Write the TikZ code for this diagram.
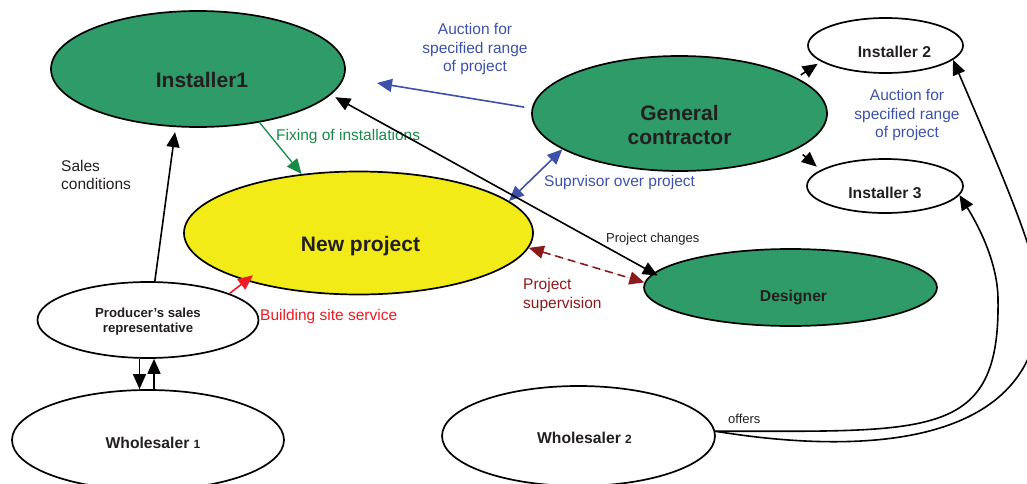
\documentclass[tikz,border=0pt]{standalone}
\usepackage{fontspec}
\setmainfont{Liberation Sans}
\usetikzlibrary{shapes.geometric, arrows.meta, positioning}

\definecolor{nodegreen}{RGB}{46,155,105}
\definecolor{nodeyellow}{RGB}{242,235,24}
\definecolor{textgrey}{RGB}{35,31,32}
\definecolor{auctionblue}{RGB}{60,82,170}
\definecolor{fixgreen}{RGB}{22,140,70}
\definecolor{sitered}{RGB}{237,28,36}
\definecolor{supred}{RGB}{139,26,26}

% moves a node text right by #1 and down by #2, keeping its box
\newcommand{\txtshift}[3]{\raisebox{-#2}[\height][\depth]{\hspace*{#1}#3\hspace*{-#1}}}

\begin{document}
\begin{tikzpicture}[
    x=1pt, y=-1pt,
    font=\fontsize{15.5}{18.5}\selectfont,
    bignode/.style={
        ellipse,
        draw=black,
        line width=1.7pt,
        fill=nodegreen,
        inner sep=0pt,
        text=textgrey,
        font=\fontsize{21}{24}\selectfont\bfseries
    },
    project/.style={bignode, fill=nodeyellow},
    smallnode/.style={
        ellipse,
        draw=black,
        line width=1.7pt,
        fill=white,
        inner sep=0pt,
        text=textgrey,
        font=\fontsize{15.7}{18}\selectfont\bfseries
    },
    arrow/.style={-{Triangle[length=15pt,width=13pt]}, line width=1.6pt, draw=black},
    dblarrow/.style={{Triangle[length=15pt,width=13pt]}-{Triangle[length=15pt,width=13pt]}, line width=1.6pt},
    labelstyle/.style={inner sep=0pt, align=center, text=textgrey}
]
\useasboundingbox (0,0) rectangle (1027,484);

% Nodos
\node[bignode, minimum width=294pt, minimum height=116pt] (inst1) at (198,69) {\txtshift{4pt}{11pt}{Installer1}};
\node[bignode, minimum width=295pt, minimum height=115pt] (gc) at (679.5,113.5) {\txtshift{0pt}{14pt}{\begin{tabular}{@{}c@{}}General\\contractor\end{tabular}}};
\node[project, minimum width=349pt, minimum height=123pt] (np) at (358.5,233) {\txtshift{2pt}{13pt}{New project}};
\node[bignode, font=\fontsize{15.7}{18}\selectfont\bfseries, minimum width=293pt, minimum height=77pt] (designer) at (790.5,287.5) {\txtshift{3pt}{10pt}{Designer}};
\node[smallnode, minimum width=155pt, minimum height=55pt] (inst2) at (885.5,45.5) {\txtshift{9pt}{6.5pt}{Installer 2}};
\node[smallnode, minimum width=156pt, minimum height=54pt] (inst3) at (885,186) {\txtshift{0pt}{7pt}{Installer 3}};
\node[smallnode, font=\fontsize{13.2}{15}\selectfont\bfseries, minimum width=221pt, minimum height=76pt] (prod) at (148,320) {\txtshift{0pt}{2pt}{\begin{tabular}{@{}c@{}}Producer’s sales\\representative\end{tabular}}};
\node[smallnode, minimum width=272pt, minimum height=100pt] (w1) at (148,440) {\txtshift{5pt}{3pt}{Wholesaler {\fontsize{12}{14}\selectfont 1}}};
\node[smallnode, minimum width=273pt, minimum height=100pt] (w2) at (578.5,436) {\txtshift{6pt}{2pt}{Wholesaler {\fontsize{12}{14}\selectfont 2}}};

% Etiquetas
\node[labelstyle, text=auctionblue] (lblauction1) at (475,49) {Auction for\\specified range\\of project};
\node[labelstyle, text=auctionblue] (lblauction2) at (907,115) {Auction for\\specified range\\of project};
\node[labelstyle, anchor=west, align=left] (lblsales) at (61,175) {Sales\\conditions};
\node[labelstyle, anchor=west, text=fixgreen] (lblfix) at (276,136) {Fixing of installations};
\node[labelstyle, anchor=west, text=auctionblue] (lblsup) at (544,182) {Suprvisor over project};
\node[labelstyle, anchor=west, font=\fontsize{13}{15}\selectfont] (lblchanges) at (606,239) {Project changes};
\node[labelstyle, anchor=west, align=left, text=supred] (lblsupvis) at (523,295) {Project\\supervision};
\node[labelstyle, anchor=west, text=sitered] (lblsite) at (260,316) {Building site service};
\node[labelstyle, anchor=west, font=\fontsize{13}{15}\selectfont] (lbloffers) at (728,419) {offers};

% Flechas
\coordinate (auctip) at (377,83);
\draw[arrow, draw=auctionblue, fill=auctionblue, shorten <=7.5pt] (gc.178) -- (auctip);
\draw[dblarrow, draw=auctionblue, fill=auctionblue] (gc.197) -- (np.12);
\draw[arrow, draw=fixgreen, fill=fixgreen, line width=1.3pt] (inst1.-41) -- (np.134);
\draw[arrow, draw=sitered, fill=sitered, shorten >=-9pt] (prod.18) -- (np.203);
\draw[dblarrow, shorten <=5pt, shorten >=-5pt] (inst1.-11) -- (designer.174);
\draw[dblarrow, draw=supred, fill=supred, dash pattern=on 8pt off 5pt] (np.-5) -- (designer.178);
\draw[arrow, shorten >=5pt] (prod.80) -- (inst1.-111);
\draw[arrow] ([xshift=-8.5pt]prod.south) -- ([xshift=-8.5pt]w1.north);
\draw[arrow] ([xshift=6pt]w1.north) -- ([xshift=6pt]prod.south);
\draw[arrow, shorten <=5pt, shorten >=4pt] (gc.17) -- (inst2.194);
\draw[arrow, shorten <=8pt, shorten >=5pt] (gc.-17) -- (inst3.166);

% offers
\draw[arrow] (w2.2) .. controls (930,431) and (1000,440) .. (998,300)
    .. controls (998,260) and (975,220) .. (inst3.-7);
\draw[arrow] (w2.2) .. controls (880,458) and (1040,440) .. (1040,300)
    .. controls (1040,260) and (1000,170) .. (inst2.-12);

\end{tikzpicture}
\end{document}
